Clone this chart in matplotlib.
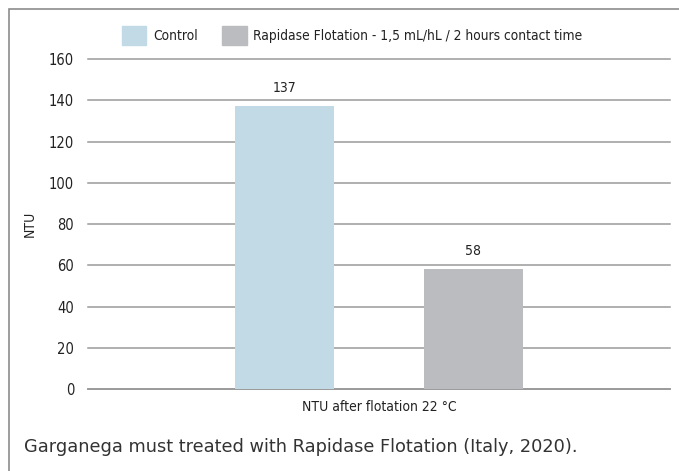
import matplotlib.pyplot as plt
from matplotlib.patches import Rectangle, Patch

plt.rcParams['font.family'] = ['DejaVu Sans']
plt.rcParams['font.stretch'] = 'condensed'

series = ["Control", "Rapidase Flotation - 1,5 mL/hL / 2 hours contact time"]
values = [137, 58]
colors = ["#c1dae5", "#bbbcc0"]
category = "NTU after flotation 22 °C"
yticks = [0, 20, 40, 60, 80, 100, 120, 140, 160]

fig = plt.figure(figsize=(6.79, 4.71), dpi=100)
ax = fig.add_axes([0.1296, 0.1741, 0.8571, 0.7006])

xpos = [-0.5, 0.5]
ax.bar(xpos, values, width=0.525, color=colors, zorder=3)
for x, v in zip(xpos, values):
    ax.text(x, v + 9, str(v), ha="center", va="center", fontsize=10, color="#222222")

ax.set_xlim(-1.544, 1.544)
ax.set_ylim(0, 160)
ax.set_yticks(yticks)
ax.grid(axis="y", color="#9a9a9a", linewidth=1.1, zorder=0)
for gl in ax.get_ygridlines():
    gl.set_clip_on(False)
ax.set_xticks([])
for s in ["top", "right", "left"]:
    ax.spines[s].set_visible(False)
ax.spines["bottom"].set_color("#9a9a9a")
ax.spines["bottom"].set_linewidth(1.3)
ax.tick_params(axis="y", length=0, pad=10, labelsize=10.5, labelcolor="#222222")
ax.set_ylabel("NTU", fontsize=10, color="#222222", labelpad=9)
ax.set_xlabel(category, fontsize=10, color="#222222", labelpad=8)

handles = [Patch(color=c) for c in colors]
fig.legend(handles, series, loc="center left", bbox_to_anchor=(0.1797, 0.9246), ncol=2,
           frameon=False, fontsize=9.9, handlelength=1.75, handleheight=1.75,
           handletextpad=0.5, columnspacing=1.8, borderpad=0, borderaxespad=0,
           labelcolor="#222222")

fig.text(0.0353, 0.051, "Garganega must treated with Rapidase Flotation (Italy, 2020).",
         fontsize=12.8, color="#333333", family=["DejaVu Sans"], stretch="normal",
         va="center")

fig.patches.append(Rectangle((0.0133, -0.1), 1.2, 1.081, transform=fig.transFigure,
                             fill=False, edgecolor="#8c8c8c", linewidth=1.2))

fig.savefig("out.png", dpi=100)
